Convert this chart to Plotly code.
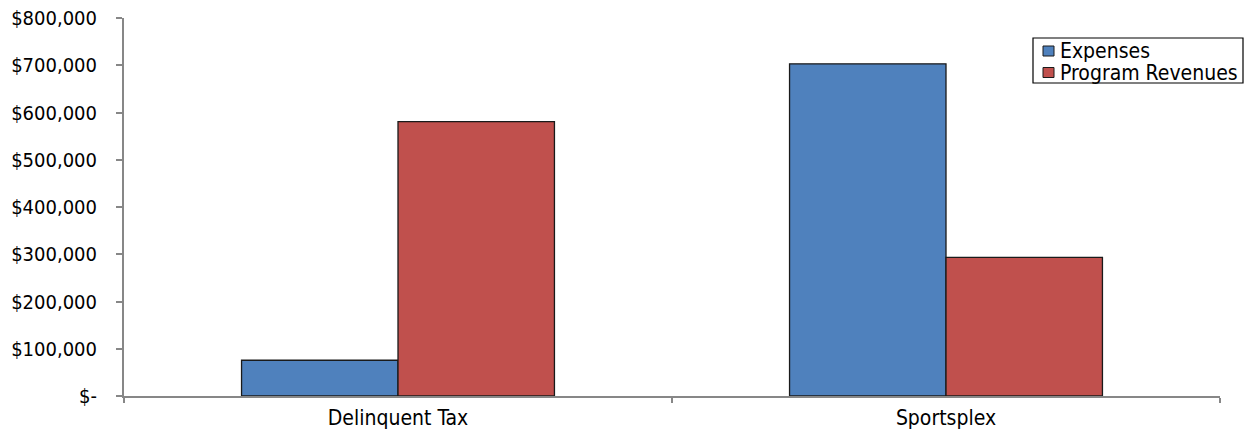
import plotly.graph_objects as go

# Chart data
categories = ["Delinquent Tax", "Sportsplex"]
series_names = ["Expenses", "Program Revenues"]
expenses = [75700, 703000]
program_revenues = [580800, 293400]
y_tick_values = [0, 100000, 200000, 300000, 400000, 500000, 600000, 700000, 800000]
y_tick_labels = ["$-", "$100,000", "$200,000", "$300,000", "$400,000",
                 "$500,000", "$600,000", "$700,000", "$800,000"]

FONT = "DejaVu Sans Condensed, DejaVu Sans, sans-serif"
AXIS_GREY = "#878787"
COLORS = ["#4F81BD", "#C0504D"]
EDGE = "#1a1a1a"

W, H = 1244, 437
M_L, M_R, M_T, M_B = 124, 24, 18, 41
PLOT_W = W - M_L - M_R
PLOT_H = H - M_T - M_B


def px_x(px):
    """Pixel column -> paper x."""
    return (px - M_L) / PLOT_W


def px_y(py):
    """Pixel row -> paper y."""
    return (H - M_B - py) / PLOT_H


fig = go.Figure()
for name, values, color in zip(series_names, [expenses, program_revenues], COLORS):
    fig.add_trace(go.Bar(
        x=categories, y=values, name=name,
        marker=dict(color=color, line=dict(color=EDGE, width=1.3)),
    ))

# Boxed legend in the upper right corner
fig.add_shape(type="rect", xref="paper", yref="paper",
              x0=px_x(1033), x1=px_x(1243), y0=px_y(83), y1=px_y(38),
              line=dict(color="black", width=1.2), fillcolor="white", layer="above")
for i, (name, color) in enumerate(zip(series_names, COLORS)):
    cy = 51 + 21.5 * i
    fig.add_shape(type="rect", xref="paper", yref="paper",
                  x0=px_x(1043), x1=px_x(1054), y0=px_y(cy + 5), y1=px_y(cy - 5),
                  line=dict(color=EDGE, width=1), fillcolor=color, layer="above")
    fig.add_annotation(xref="paper", yref="paper", x=px_x(1058), y=px_y(cy),
                       xanchor="left", yanchor="middle", showarrow=False,
                       text=name, font=dict(family=FONT, size=21, color="black"))

fig.update_layout(
    width=W, height=H,
    margin=dict(l=M_L, r=M_R, t=M_T, b=M_B, autoexpand=False),
    paper_bgcolor="white", plot_bgcolor="white",
    barmode="group", bargap=0.429, bargroupgap=0,
    font=dict(family=FONT, size=20, color="black"),
    showlegend=False,
    xaxis=dict(
        showline=True, linecolor=AXIS_GREY, linewidth=2,
        ticks="outside", tickson="boundaries", ticklen=5,
        tickcolor=AXIS_GREY, tickwidth=2,
        showgrid=False, zeroline=False, automargin=False,
        ticklabelstandoff=2,
        tickfont=dict(family=FONT, size=21, color="black"),
    ),
    yaxis=dict(
        range=[0, 800000],
        tickvals=y_tick_values, ticktext=y_tick_labels,
        showline=True, linecolor=AXIS_GREY, linewidth=2,
        ticks="outside", ticklen=6, tickcolor=AXIS_GREY, tickwidth=2,
        showgrid=False, zeroline=False, automargin=False,
        ticklabelstandoff=15,
        tickfont=dict(family=FONT, size=20, color="black"),
    ),
)

fig.write_html("out.html")
